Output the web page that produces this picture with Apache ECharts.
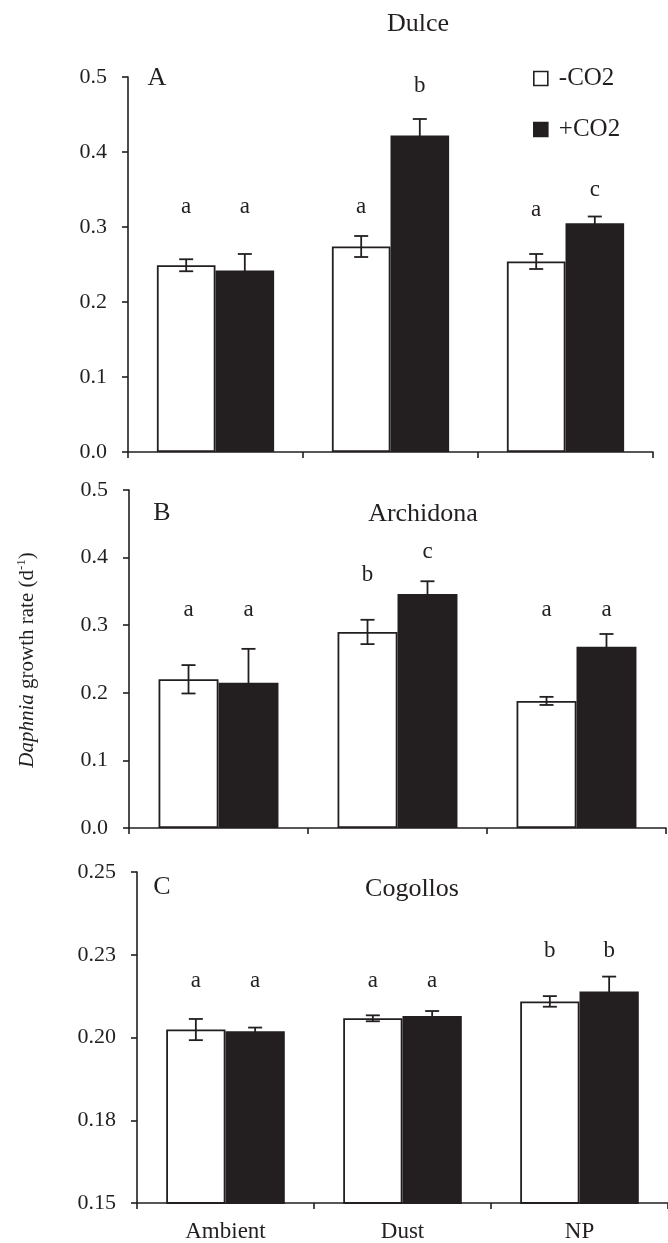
<!DOCTYPE html>
<html>
<head>
<meta charset="utf-8">
<script src="https://cdn.jsdelivr.net/npm/echarts@6/dist/echarts.min.js"></script>
<style>
html,body{margin:0;padding:0;background:#fff;}
#main{width:668px;height:1243px;}
</style>
</head>
<body>
<div id="main"></div>
<script>
// data
var categories = ['Ambient', 'Dust', 'NP'];
var seriesNames = ['-CO2', '+CO2'];

var dulceMinus = [0.249, 0.274, 0.254];
var dulceMinusErr = [0.008, 0.014, 0.010];
var dulcePlus = [0.242, 0.422, 0.305];
var dulcePlusErr = [0.022, 0.022, 0.009];
var dulceLetMinus = ['a', 'a', 'a'];
var dulceLetPlus = ['a', 'b', 'c'];
var dulceLetMinusY = [0.327, 0.327, 0.323];
var dulceLetPlusY = [0.327, 0.488, 0.350];

var archMinus = [0.220, 0.290, 0.188];
var archMinusErr = [0.021, 0.018, 0.006];
var archPlus = [0.215, 0.346, 0.268];
var archPlusErr = [0.050, 0.019, 0.019];
var archLetMinus = ['a', 'b', 'a'];
var archLetPlus = ['a', 'c', 'a'];
var archLetMinusY = [0.322, 0.374, 0.322];
var archLetPlusY = [0.322, 0.409, 0.322];

var cogMinus = [0.2024, 0.2058, 0.2109];
var cogMinusErr = [0.0032, 0.0009, 0.0016];
var cogPlus = [0.2019, 0.2065, 0.2139];
var cogPlusErr = [0.0011, 0.0015, 0.0045];
var cogLetMinus = ['a', 'a', 'b'];
var cogLetPlus = ['a', 'a', 'b'];
var cogLetMinusY = [0.217, 0.217, 0.226];
var cogLetPlusY = [0.217, 0.217, 0.226];

var cogTicks = ['0.15', '0.18', '0.20', '0.23', '0.25'];

var FONT = 'Liberation Serif';
var INK = '#231f20';
var HALF = 0.1675;  // bar centre offset, fraction of category band

var chart = echarts.init(document.getElementById('main'));

function barSeries(g, name, vals, fill) {
    return {
        name: name, type: 'bar', xAxisIndex: g, yAxisIndex: g,
        data: vals, barGap: '0%', barCategoryGap: '33%',
        itemStyle: {color: fill, borderColor: INK, borderWidth: 1.8},
        silent: true
    };
}

function errSeries(g, vals, errs, side) {
    var data = [];
    for (var i = 0; i < vals.length; i++) data.push([i, vals[i], errs[i]]);
    return {
        type: 'custom', xAxisIndex: g, yAxisIndex: g, z: 5, silent: true,
        encode: {x: 0, y: 1},
        data: data,
        renderItem: function (params, api) {
            var band = api.size([1, 0])[0];
            var top = api.coord([api.value(0), api.value(1) + api.value(2)]);
            var bot = api.coord([api.value(0), api.value(1) - api.value(2)]);
            var x = top[0] + side * band * HALF;
            var st = {stroke: INK, lineWidth: 1.8};
            return {type: 'group', children: [
                {type: 'line', shape: {x1: x, y1: top[1], x2: x, y2: bot[1]}, style: st},
                {type: 'line', shape: {x1: x - 7, y1: top[1], x2: x + 7, y2: top[1]}, style: st},
                {type: 'line', shape: {x1: x - 7, y1: bot[1], x2: x + 7, y2: bot[1]}, style: st}
            ]};
        }
    };
}

function letterSeries(g, letters, ys, side) {
    var data = [];
    for (var i = 0; i < ys.length; i++) data.push([i, ys[i]]);
    return {
        type: 'custom', xAxisIndex: g, yAxisIndex: g, z: 6, silent: true,
        encode: {x: 0, y: 1},
        data: data,
        renderItem: function (params, api) {
            var band = api.size([1, 0])[0];
            var p = api.coord([api.value(0), api.value(1)]);
            return {
                type: 'text', x: p[0] + side * band * HALF, y: p[1],
                style: {text: letters[params.dataIndex], fill: INK,
                    font: '23px "' + FONT + '"', align: 'center', verticalAlign: 'middle'}
            };
        }
    };
}

function xAx(g, showLabel) {
    return {
        type: 'category', gridIndex: g, data: categories,
        axisLine: {lineStyle: {color: INK, width: 1.6}},
        axisTick: {show: true, length: 6, lineStyle: {color: INK, width: 1.6}},
        axisLabel: {show: showLabel, color: INK, fontFamily: FONT, fontSize: 23, margin: 17},
        splitLine: {show: false}
    };
}

function yAx(g, min, max, interval, fmt) {
    return {
        type: 'value', gridIndex: g, min: min, max: max, interval: interval,
        axisLine: {show: true, lineStyle: {color: INK, width: 1.6}},
        axisTick: {show: true, length: 6, lineStyle: {color: INK, width: 1.6}},
        axisLabel: {color: INK, fontFamily: FONT, fontSize: 22, margin: 21, formatter: fmt},
        splitLine: {show: false}
    };
}

function fmt1(v) { return v.toFixed(1); }
function fmtCog(v) { return cogTicks[Math.round((v - 0.15) / 0.025)]; }

function txt(x, y, s, size) {
    return {type: 'text', x: x, y: y, silent: true,
        style: {text: s, fill: INK, font: size + 'px "' + FONT + '"', align: 'center', verticalAlign: 'middle'}};
}

var option = {
    backgroundColor: '#fff',
    animation: false,
    grid: [
        {left: 128, right: 15, top: 77, height: 375},
        {left: 129, right: 2, top: 490, height: 338},
        {left: 137, right: 0, top: 872, height: 332}
    ],
    xAxis: [xAx(0, false), xAx(1, false), xAx(2, true)],
    yAxis: [
        yAx(0, 0, 0.5, 0.1, fmt1),
        yAx(1, 0, 0.5, 0.1, fmt1),
        yAx(2, 0.15, 0.25, 0.025, fmtCog)
    ],
    legend: {
        data: [
            {name: seriesNames[0], itemStyle: {color: '#fff', borderColor: INK, borderWidth: 1.6}},
            {name: seriesNames[1], itemStyle: {color: INK, borderColor: INK, borderWidth: 1.6}}
        ],
        orient: 'vertical', left: 528, top: 61, icon: 'rect',
        itemWidth: 14, itemHeight: 14, itemGap: 26,
        textStyle: {color: INK, fontFamily: FONT, fontSize: 25, padding: [0, 0, 0, 6]},
        selectedMode: false
    },
    graphic: [
        txt(418, 24, 'Dulce', 26),
        txt(157, 78, 'A', 26),
        txt(423, 514, 'Archidona', 26),
        txt(162, 513, 'B', 26),
        txt(412, 889, 'Cogollos', 26),
        txt(162, 887, 'C', 26),
        {
            type: 'text', x: 27, y: 660, rotation: Math.PI / 2, silent: true,
            style: {
                text: '{i|Daphnia} growth rate (d{s|-1})',
                fill: INK, font: '21px "' + FONT + '"',
                align: 'center', verticalAlign: 'middle',
                rich: {
                    i: {fontStyle: 'italic', fontFamily: FONT, fontSize: 21, fill: INK, lineHeight: 24},
                    s: {fontFamily: FONT, fontSize: 13, fill: INK, lineHeight: 24, verticalAlign: 'top'}
                }
            }
        }
    ],
    series: [
        barSeries(0, seriesNames[0], dulceMinus, '#fff'),
        barSeries(0, seriesNames[1], dulcePlus, INK),
        errSeries(0, dulceMinus, dulceMinusErr, -1),
        errSeries(0, dulcePlus, dulcePlusErr, 1),
        letterSeries(0, dulceLetMinus, dulceLetMinusY, -1),
        letterSeries(0, dulceLetPlus, dulceLetPlusY, 1),

        barSeries(1, seriesNames[0], archMinus, '#fff'),
        barSeries(1, seriesNames[1], archPlus, INK),
        errSeries(1, archMinus, archMinusErr, -1),
        errSeries(1, archPlus, archPlusErr, 1),
        letterSeries(1, archLetMinus, archLetMinusY, -1),
        letterSeries(1, archLetPlus, archLetPlusY, 1),

        barSeries(2, seriesNames[0], cogMinus, '#fff'),
        barSeries(2, seriesNames[1], cogPlus, INK),
        errSeries(2, cogMinus, cogMinusErr, -1),
        errSeries(2, cogPlus, cogPlusErr, 1),
        letterSeries(2, cogLetMinus, cogLetMinusY, -1),
        letterSeries(2, cogLetPlus, cogLetPlusY, 1)
    ]
};

chart.setOption(option);
</script>
</body>
</html>
